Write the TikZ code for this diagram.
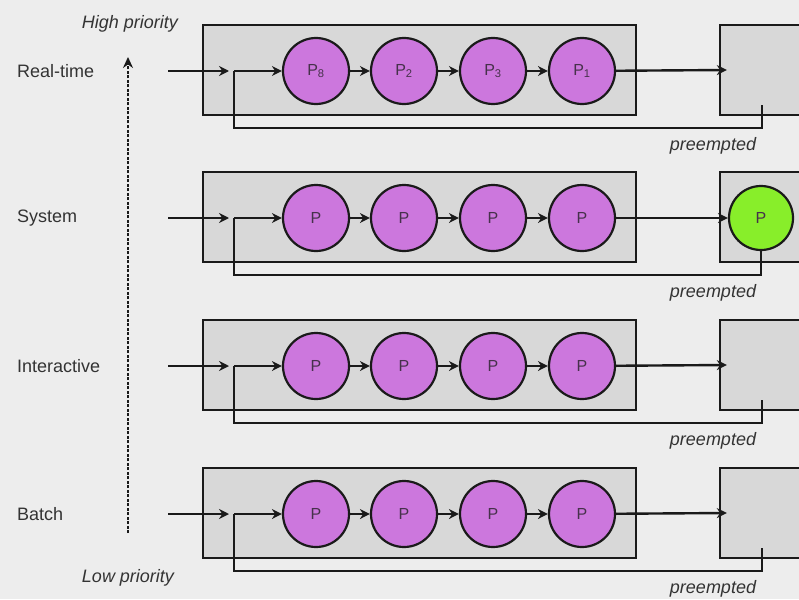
\documentclass[tikz,border=0pt]{standalone}
\usepackage{fontspec}
\setmainfont{Liberation Sans}
\usetikzlibrary{arrows.meta}
\definecolor{pagebg}{HTML}{EDEDED}
\definecolor{boxfill}{HTML}{D8D8D8}
\definecolor{procfill}{HTML}{CC77DD}
\definecolor{runfill}{HTML}{88EE2A}
\definecolor{inkc}{HTML}{1A1A1A}
\definecolor{txt}{HTML}{333333}
\tikzset{
  lbl/.style={font=\fontsize{18}{20}\selectfont, text=txt, anchor=west, inner sep=0},
  note/.style={font=\fontsize{18}{20}\selectfont\itshape, text=txt, inner sep=0},
  queue/.style={draw=inkc, line width=2.4, fill=boxfill, minimum width=433, minimum height=90, inner sep=0},
  cpu/.style={draw=inkc, line width=2.4, fill=boxfill, minimum width=110, minimum height=90, inner sep=0},
  proc/.style={circle, draw=inkc, line width=2.2, fill=procfill, minimum size=66, inner sep=0,
    font=\fontsize{16}{18}\selectfont, text=inkc!75!procfill},
  running/.style={proc, fill=runfill, minimum size=64},
  wire/.style={draw=inkc, line width=2.4},
  arr/.style={wire, -{Stealth[length=10, width=10]}},
}
\begin{document}
\begin{tikzpicture}[x=1pt, y=-1pt]
  \useasboundingbox (0,0) rectangle (799,599);
  \clip (0,0) rectangle (799,599);
  \fill[pagebg] (0,0) rectangle (799,599);

  % priority axis
  \node[note] (hi) at (130,24) {High priority};
  \node[note] (lo) at (128,578) {Low priority};
  \coordinate (axbot) at (128,533);
  \coordinate (axtop) at (128,57);
  \draw[wire, line width=2.6, dash pattern=on 3 off 1.5, -{Stealth[length=11, width=10]}] (axbot) -- (axtop);

  \foreach \r/\y/\name/\pa/\pb/\pc/\pd in {
      1/71/Real-time/{P\textsubscript{8}}/{P\textsubscript{2}}/{P\textsubscript{3}}/{P\textsubscript{1}},
      2/218/System/P/P/P/P,
      3/366/Interactive/P/P/P/P,
      4/514/Batch/P/P/P/P} {
    \node[lbl] (lab\r) at (17,\y) {\name};
    % ready queue and processor
    \node[queue] (q\r) at (419.5,\y-1) {};
    \node[cpu] (cpu\r) at (775,\y-1) {};
    \node[proc] (c\r a) at (316,\y) {\pa};
    \node[proc] (c\r b) at (404,\y) {\pb};
    \node[proc] (c\r c) at (493,\y) {\pc};
    \node[proc] (c\r d) at (582,\y) {\pd};
    \coordinate (in\r) at (168,\y);
    \coordinate (j\r) at (234,\y);
    \coordinate (back\r) at (234,\y+57);
    \draw[arr] (in\r) -- ([xshift=-5]j\r);
    \draw[arr] (j\r) -- (c\r a.west);
    \draw[arr] (c\r a) -- (c\r b);
    \draw[arr] (c\r b) -- (c\r c);
    \draw[arr] (c\r c) -- (c\r d);
    \node[note] (pre\r) at (713,\y+75) {preempted};
  }

  % rows with an idle processor
  \foreach \r in {1,3,4} {
    \coordinate (out\r) at ([xshift=8]cpu\r.west);
    \coordinate (ret\r) at ([yshift=11]cpu\r.south -| 762,0);
    \draw[arr] (c\r d) -- (out\r);
    \draw[wire] (ret\r) |- (back\r) -- (j\r);
  }

  % system row: process on the processor
  \node[running] (run2) at (761,218) {P};
  \draw[arr] (c2d) -- (run2);
  \draw[wire] (run2.south) |- (back2) -- (j2);
\end{tikzpicture}
\end{document}
